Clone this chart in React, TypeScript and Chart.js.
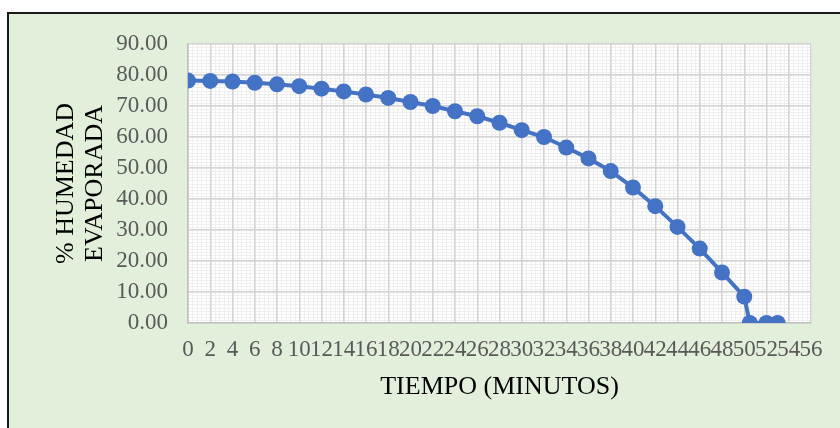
import React, { useEffect, useRef } from "react";
import { Chart, registerables } from "chart.js";

Chart.register(...registerables);

const tiempo = [0, 2, 4, 6, 8, 10, 12, 14, 16, 18, 20, 22, 24, 26, 28, 30, 32, 34, 36, 38, 40, 42, 44, 46, 48, 50, 50.5, 52, 53];
const humedad = [78.2, 78.1, 77.9, 77.5, 77.0, 76.4, 75.6, 74.7, 73.7, 72.6, 71.3, 70.0, 68.3, 66.7, 64.6, 62.2, 60.0, 56.6, 53.1, 49.0, 43.7, 37.7, 31.0, 24.0, 16.3, 8.5, 0, 0, 0];
const xTitle = "TIEMPO (MINUTOS)";
const yTitle = ["% HUMEDAD", "EVAPORADA"];

const FONT = "'Liberation Serif', 'Times New Roman', serif";

const plotBg = {
  id: "plotBg",
  beforeDraw(chart: any) {
    const { ctx, chartArea } = chart;
    if (!chartArea) return;
    const { left, right, top, bottom } = chartArea;
    ctx.save();
    ctx.fillStyle = "#ffffff";
    ctx.fillRect(left, top, right - left, bottom - top);
    const xs = chart.scales.x;
    const ys = chart.scales.y;
    ctx.strokeStyle = "#EFEFEF";
    ctx.lineWidth = 1;
    ctx.beginPath();
    for (let v = 0; v <= 56; v += 0.4) {
      const px = Math.round(xs.getPixelForValue(v)) + 0.5;
      ctx.moveTo(px, top);
      ctx.lineTo(px, bottom);
    }
    for (let v = 0; v <= 90; v += 1) {
      const py = Math.round(ys.getPixelForValue(v)) + 0.5;
      ctx.moveTo(left, py);
      ctx.lineTo(right, py);
    }
    ctx.stroke();
    ctx.restore();
  },
};

export default function App() {
  const ref = useRef<HTMLCanvasElement | null>(null);

  useEffect(() => {
    document.body.style.margin = "0";
    if (!ref.current) return;
    const chart = new Chart(ref.current, {
      type: "scatter",
      data: {
        datasets: [
          {
            data: tiempo.map((x, i) => ({ x, y: humedad[i] })),
            showLine: true,
            borderColor: "#4472C4",
            backgroundColor: "#4472C4",
            borderWidth: 4,
            pointRadius: 8,
            pointBorderWidth: 0,
            pointBackgroundColor: "#4472C4",
          },
        ],
      },
      options: {
        animation: false,
        responsive: false,
        maintainAspectRatio: false,
        layout: { padding: { left: 0, top: 44, right: 29, bottom: 0 } },
        plugins: { legend: { display: false }, tooltip: { enabled: false } },
        scales: {
          x: {
            type: "linear",
            min: 0,
            max: 56,
            afterFit: (s: any) => {
              s.height = 105;
            },
            ticks: {
              stepSize: 2,
              autoSkip: false,
              maxRotation: 0,
              minRotation: 0,
              padding: 13,
              color: "#595959",
              font: { family: FONT, size: 23 },
            },
            grid: { color: "#D4D4D4", lineWidth: 1.5, drawTicks: false },
            border: { color: "#BFBFBF", width: 1.5 },
            title: {
              display: true,
              text: xTitle,
              color: "#000000",
              font: { family: FONT, size: 26, lineHeight: 1.2 },
              padding: { top: 0, bottom: 25 },
            },
          },
          y: {
            min: 0,
            max: 90,
            afterFit: (s: any) => {
              s.width = 188;
            },
            ticks: {
              stepSize: 10,
              padding: 20,
              color: "#595959",
              font: { family: FONT, size: 23 },
              callback: (v: any) => Number(v).toFixed(2),
            },
            grid: { color: "#D4D4D4", lineWidth: 1.5, drawTicks: false },
            border: { color: "#BFBFBF", width: 1.5 },
            title: {
              display: true,
              text: yTitle,
              color: "#000000",
              font: { family: FONT, size: 26, lineHeight: 1.1 },
              padding: { top: 52, bottom: 0 },
            },
          },
        },
      },
      plugins: [plotBg],
    });
    return () => chart.destroy();
  }, []);

  return (
    <div style={{ position: "relative", width: 840, height: 428, overflow: "hidden" }}>
      <div
        style={{
          position: "absolute",
          left: 7,
          top: 12,
          width: 900,
          height: 500,
          border: "2px solid #1a1a1a",
          background: "#E2EFDA",
        }}
      />
      <canvas ref={ref} width={840} height={428} style={{ position: "absolute", left: 0, top: 0 }} />
    </div>
  );
}
